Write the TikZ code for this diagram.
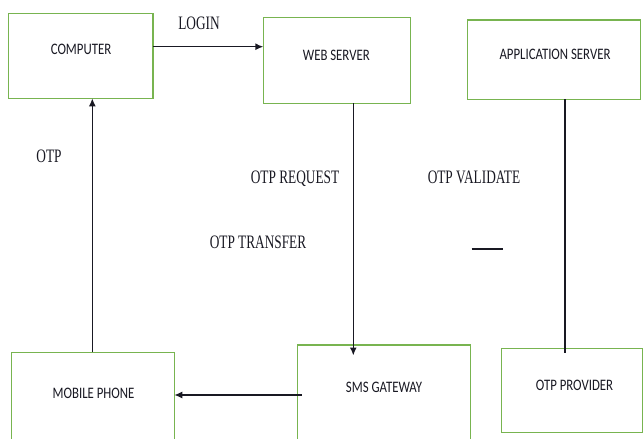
\documentclass[tikz,border=0pt]{standalone}
\usepackage{fontspec}
\usetikzlibrary{arrows.meta}
\newfontfamily\boxfont[FakeStretch=0.8]{Carlito}
\newfontfamily\labfont[FakeStretch=0.7]{Liberation Serif}
\definecolor{boxgreen}{RGB}{120,180,80}
\definecolor{ink}{RGB}{25,25,35}
\tikzset{
  box/.style={draw=boxgreen, line width=1.3pt},
  boxtext/.style={anchor=base, inner sep=0pt, text=ink, font=\boxfont\fontsize{16}{18}\selectfont},
  lab/.style={anchor=base, inner sep=0pt, text=ink, font=\labfont\fontsize{19}{21}\selectfont},
  flow/.style={draw=ink, line width=1.4pt, -{Latex[length=8pt,width=7pt]}},
  link/.style={draw=ink, line width=1.2pt},
}
\begin{document}
\begin{tikzpicture}[x=1pt, y=-1pt]
\useasboundingbox[fill=white] (0,0) rectangle (643,439);
\begin{scope}
\clip (0,0) rectangle (643,439);
% boxes
\draw[box] (8.3,13.3) rectangle (153,98.3) coordinate (computerbr);
\coordinate (computer-e) at (153,46.7);
\coordinate (computer-s) at (92.3,98.3);
\draw[box] (263.3,17.3) rectangle (410.7,103.3);
\coordinate (web-w) at (263.3,46.7);
\coordinate (web-s) at (353.3,103.3);
\draw[box] (467.7,20) rectangle (640.7,99.3);
\coordinate (app-s) at (565,99.3);
\draw[box] (11.7,352.3) rectangle (174.3,450);
\coordinate (mobile-n) at (92.3,352.3);
\coordinate (mobile-e) at (174.3,395);
\draw[box] (297.7,345) rectangle (470.3,450);
\coordinate (sms-in) at (353.3,355.5);
\coordinate (sms-out) at (301.7,395);
\draw[box] (501.3,348.3) rectangle (642.3,432.3);
\coordinate (otp-in) at (565,352.7);
\end{scope}
% box texts
\node[boxtext] (t-computer) at (81,54.3) {COMPUTER};
\node[boxtext] (t-web) at (336.3,60) {WEB SERVER};
\node[boxtext] (t-app) at (555,59.3) {APPLICATION SERVER};
\node[boxtext] (t-mobile) at (93.5,398.3) {MOBILE PHONE};
\node[boxtext] (t-sms) at (384,392.7) {SMS GATEWAY};
\node[boxtext] (t-otp) at (574.5,390) {OTP PROVIDER};
% connectors
\draw[flow] (computer-e) -- (web-w);
\draw[flow] (web-s) -- (sms-in);
\draw[link] (app-s) -- (otp-in);
\draw[flow] (sms-out) -- (mobile-e);
\draw[flow] (mobile-n) -- (computer-s);
% short mark
\coordinate (mark-a) at (471.7,249);
\coordinate (mark-b) at (503.3,249);
\draw[link] (mark-a) -- (mark-b);
% labels
\node[lab] (l-login) at (199,29.3) {LOGIN};
\node[lab] (l-otp) at (49,162) {OTP};
\node[lab] (l-req) at (295,183.3) {OTP REQUEST};
\node[lab] (l-val) at (474,183.3) {OTP VALIDATE};
\node[lab] (l-tr) at (258,248.7) {OTP TRANSFER};
\end{tikzpicture}
\end{document}
